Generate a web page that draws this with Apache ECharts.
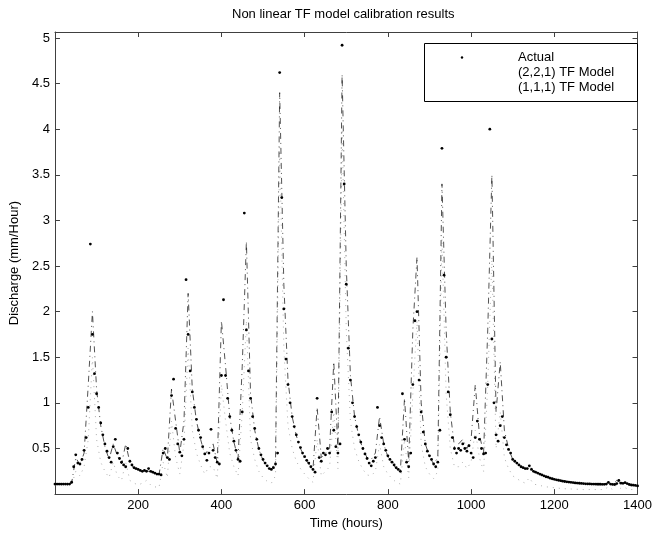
<!DOCTYPE html>
<html>
<head>
<meta charset="utf-8">
<script src="https://cdn.jsdelivr.net/npm/echarts@6/dist/echarts.min.js"></script>
<style>
html,body{margin:0;padding:0;background:#fff;}
#c{width:655px;height:535px;}
</style>
</head>
<body>
<div id="c"></div>
<script>
// ---------------- data ----------------
const titleText = 'Non linear TF model calibration results';
const xName = 'Time (hours)';
const yName = 'Discharge (mm/Hour)';
const seriesNames = ['Actual', '(2,2,1) TF Model', '(1,1,1) TF Model'];

// Actual discharge, one value every 5 hours from t = 0 to 1400
const actualStep = 5;
const actualValues = [
  0.11,0.11,0.11,0.11,0.11,0.11,0.11,0.11,0.13,0.30, 0.43,0.34,0.33,0.38,0.48,0.62,0.95,2.74,1.75,1.32,
  1.10,0.95,0.78,0.65,0.55,0.47,0.40,0.35,0.52,0.60, 0.45,0.39,0.35,0.32,0.30,0.50,0.36,0.32,0.29,0.28,
  0.27,0.26,0.25,0.26,0.25,0.28,0.25,0.24,0.23,0.22, 0.22,0.21,0.45,0.50,0.40,0.38,1.08,1.26,0.72,0.55,
  0.46,0.42,0.60,2.35,1.75,1.35,1.12,0.95,0.82,0.70, 0.62,0.52,0.44,0.37,0.45,0.71,0.48,0.40,0.35,0.33,
  1.30,2.13,1.30,1.05,0.85,0.70,0.58,0.48,0.38,0.36, 0.90,3.08,1.80,1.35,1.05,0.85,0.72,0.60,0.50,0.43,
  0.38,0.34,0.31,0.28,0.27,0.29,0.33,0.45,4.62,3.25, 2.03,1.48,1.20,1.00,0.85,0.74,0.65,0.57,0.51,0.45,
  0.41,0.37,0.34,0.30,0.27,0.24,1.05,0.40,0.36,0.45, 0.43,0.50,0.45,0.90,0.70,0.52,0.45,0.55,4.92,3.40,
  2.30,1.60,1.25,1.00,0.85,0.74,0.65,0.57,0.50,0.44, 0.39,0.34,0.31,0.36,0.40,0.95,0.75,0.62,0.55,0.48,
  0.42,0.38,0.35,0.32,0.29,0.27,0.25,1.10,0.60,0.35, 0.30,0.45,1.20,1.90,2.00,1.25,0.90,0.68,0.55,0.47,
  0.42,0.38,0.33,0.30,0.35,0.70,3.79,2.40,1.50,1.12, 0.87,0.62,0.50,0.45,0.50,0.48,0.55,0.50,0.47,0.53,
  0.45,0.40,0.62,0.80,0.60,0.50,0.44,0.45,1.20,4.00, 1.70,1.00,0.65,0.58,0.75,0.85,0.62,0.54,0.49,0.45,
  0.38,0.36,0.34,0.32,0.30,0.29,0.28,0.28,0.31,0.27, 0.25,0.24,0.23,0.22,0.21,0.20,0.19,0.185,0.175,0.168,
  0.162,0.157,0.152,0.147,0.142,0.138,0.135,0.132,0.129,0.126, 0.123,0.121,0.119,0.117,0.115,0.113,0.112,0.111,0.110,0.110,
  0.109,0.108,0.108,0.107,0.107,0.110,0.128,0.110,0.106,0.105, 0.115,0.150,0.120,0.118,0.125,0.115,0.105,0.100,0.098,0.095,
  0.090
];

// Model outputs, one value every 10 hours from t = 0 to 1400
const modelStep = 10;
const model221Values = [
  0.11,0.11,0.11,0.11,0.12,0.40,0.32,0.45,1.20,2.00,
  1.15,0.75,0.52,0.38,0.55,0.42,0.33,0.55,0.35,0.28,
  0.26,0.25,0.26,0.24,0.22,0.21,0.50,0.38,1.15,0.80,
  0.45,0.80,2.20,1.15,0.80,0.60,0.43,0.50,0.55,0.34,
  1.90,1.40,0.85,0.57,0.39,1.40,2.77,1.10,0.70,0.49,
  0.37,0.30,0.27,0.35,4.40,2.30,1.25,0.85,0.64,0.50,
  0.40,0.33,0.27,0.95,0.40,0.45,0.50,1.45,0.50,4.60,
  2.50,1.30,0.85,0.64,0.49,0.40,0.38,0.45,0.85,0.55,
  0.41,0.34,0.28,0.25,1.05,0.35,1.80,2.60,1.00,0.55,
  0.41,0.33,0.40,3.40,1.80,0.90,0.52,0.55,0.60,0.50,
  0.60,1.20,0.65,0.45,1.80,3.50,0.90,1.45,0.70,0.50,
  0.38,0.34,0.30,0.28,0.32,0.25,0.23,0.21,0.19,0.175,
  0.162,0.152,0.142,0.135,0.129,0.123,0.119,0.115,0.112,0.110,
  0.109,0.108,0.107,0.128,0.106,0.150,0.120,0.125,0.105,0.098,
  0.090
];
const model111Values = [
  0.10,0.10,0.10,0.10,0.10,0.25,0.20,0.30,0.60,1.50,
  0.60,0.35,0.25,0.18,0.35,0.20,0.15,0.35,0.15,0.12,
  0.10,0.12,0.15,0.10,0.08,0.07,0.35,0.18,0.80,0.40,
  0.22,0.55,1.60,0.70,0.45,0.32,0.22,0.30,0.30,0.17,
  1.20,0.80,0.45,0.30,0.20,0.90,1.90,0.60,0.38,0.25,
  0.18,0.14,0.12,0.20,3.80,1.60,0.75,0.50,0.36,0.28,
  0.22,0.17,0.13,0.60,0.20,0.25,0.30,0.90,0.28,4.00,
  1.80,0.80,0.50,0.36,0.27,0.21,0.20,0.25,0.55,0.30,
  0.22,0.17,0.13,0.11,0.60,0.18,1.10,1.90,0.55,0.30,
  0.22,0.17,0.25,2.80,1.10,0.50,0.30,0.30,0.35,0.28,
  0.35,0.70,0.40,0.25,1.20,2.60,0.50,0.90,0.40,0.28,
  0.20,0.17,0.14,0.12,0.18,0.11,0.10,0.09,0.08,0.075,
  0.07,0.065,0.06,0.058,0.056,0.054,0.052,0.05,0.05,0.05,
  0.05,0.05,0.05,0.08,0.05,0.10,0.06,0.07,0.05,0.05,
  0.05
];

// axis ticks
const xMin = 0, xMax = 1400, xInterval = 200;
const yMin = 0, yMax = 5.065, yInterval = 0.5;

// ---------------- chart ----------------
const FONT = '"Liberation Sans", Arial, Helvetica, sans-serif';
const AX = '#404040';

const toPairs = (vals, step) => vals.map((v, i) => [i * step, v]);

function yLabel(v) {
  if (v <= yMin || v > 5.0001) return '';
  if (Math.abs(v / yInterval - Math.round(v / yInterval)) > 1e-6) return '';
  return String(v);
}
function xLabel(v) {
  if (v <= xMin) return '';
  return String(v);
}

const chart = echarts.init(document.getElementById('c'), null, {renderer: 'canvas'});
chart.setOption({
  animation: false,
  backgroundColor: '#ffffff',
  title: {
    text: titleText,
    left: 232, top: 8, padding: 0,
    textStyle: {fontFamily: FONT, fontSize: 13, fontWeight: 'normal', color: '#000'}
  },
  grid: {left: 48, right: 12, top: 32, bottom: 35, containLabel: false},
  legend: {
    orient: 'vertical',
    left: 410, top: 50, padding: 0, itemGap: 0,
    itemWidth: 102, itemHeight: 3,
    selectedMode: false,
    textStyle: {fontFamily: FONT, fontSize: 13, lineHeight: 15, color: '#000'},
    data: [
      {name: seriesNames[0], lineStyle: {opacity: 0}},
      {name: seriesNames[1], itemStyle: {opacity: 0}, lineStyle: {opacity: 0}},
      {name: seriesNames[2], itemStyle: {opacity: 0}, lineStyle: {opacity: 0}}
    ]
  },
  graphic: [{
    type: 'rect', left: 424, top: 43, z: 3,
    shape: {width: 213, height: 58},
    style: {fill: '#fff', stroke: '#000', lineWidth: 1}
  }],
  xAxis: [{
    type: 'value', position: 'bottom', min: xMin, max: xMax, interval: xInterval,
    name: xName, nameLocation: 'middle', nameGap: 20,
    nameTextStyle: {fontFamily: FONT, fontSize: 13, color: '#000'},
    axisLine: {show: true, onZero: false, lineStyle: {color: AX, width: 1}},
    axisTick: {show: true, inside: true, length: 5, lineStyle: {color: AX}},
    axisLabel: {fontFamily: FONT, fontSize: 13, color: '#000', margin: 5, formatter: xLabel},
    splitLine: {show: false}
  }, {
    type: 'value', position: 'top', min: xMin, max: xMax, interval: xInterval,
    axisLine: {show: true, onZero: false, lineStyle: {color: AX, width: 1}},
    axisTick: {show: true, inside: true, length: 5, lineStyle: {color: AX}},
    axisLabel: {show: false}, splitLine: {show: false}
  }],
  yAxis: [{
    type: 'value', position: 'left', min: yMin, max: yMax, interval: yInterval,
    name: yName, nameLocation: 'middle', nameGap: 26, nameRotate: 90,
    nameTextStyle: {fontFamily: FONT, fontSize: 13, color: '#000'},
    axisLine: {show: true, onZero: false, lineStyle: {color: AX, width: 1}},
    axisTick: {show: true, inside: true, length: 5, lineStyle: {color: AX}},
    axisLabel: {fontFamily: FONT, fontSize: 13, color: '#000', margin: 5, formatter: yLabel, showMaxLabel: false},
    splitLine: {show: false}
  }, {
    type: 'value', position: 'right', min: yMin, max: yMax, interval: yInterval,
    axisLine: {show: true, onZero: false, lineStyle: {color: AX, width: 1}},
    axisTick: {show: true, inside: true, length: 5, lineStyle: {color: AX}},
    axisLabel: {show: false}, splitLine: {show: false}
  }],
  series: [{
    name: seriesNames[2], type: 'line', xAxisIndex: 0, yAxisIndex: 0,
    data: toPairs(model111Values, modelStep),
    showSymbol: false, symbol: 'none',
    lineStyle: {color: '#999999', width: 0.8, type: [1, 5]},
    itemStyle: {color: '#999999'}, z: 2
  }, {
    name: seriesNames[1], type: 'line', xAxisIndex: 0, yAxisIndex: 0,
    data: toPairs(model221Values, modelStep),
    showSymbol: false, symbol: 'none',
    lineStyle: {color: '#000', width: 0.8, type: [6, 4, 1, 4], opacity: 0.85},
    itemStyle: {color: '#000'}, z: 2
  }, {
    name: seriesNames[0], type: 'line', xAxisIndex: 0, yAxisIndex: 0,
    data: toPairs(actualValues, actualStep),
    symbol: 'circle', symbolSize: 2.8, showSymbol: true, showAllSymbol: true,
    lineStyle: {width: 0, opacity: 0},
    itemStyle: {color: '#000'}, z: 2
  }]
});
</script>
</body>
</html>
